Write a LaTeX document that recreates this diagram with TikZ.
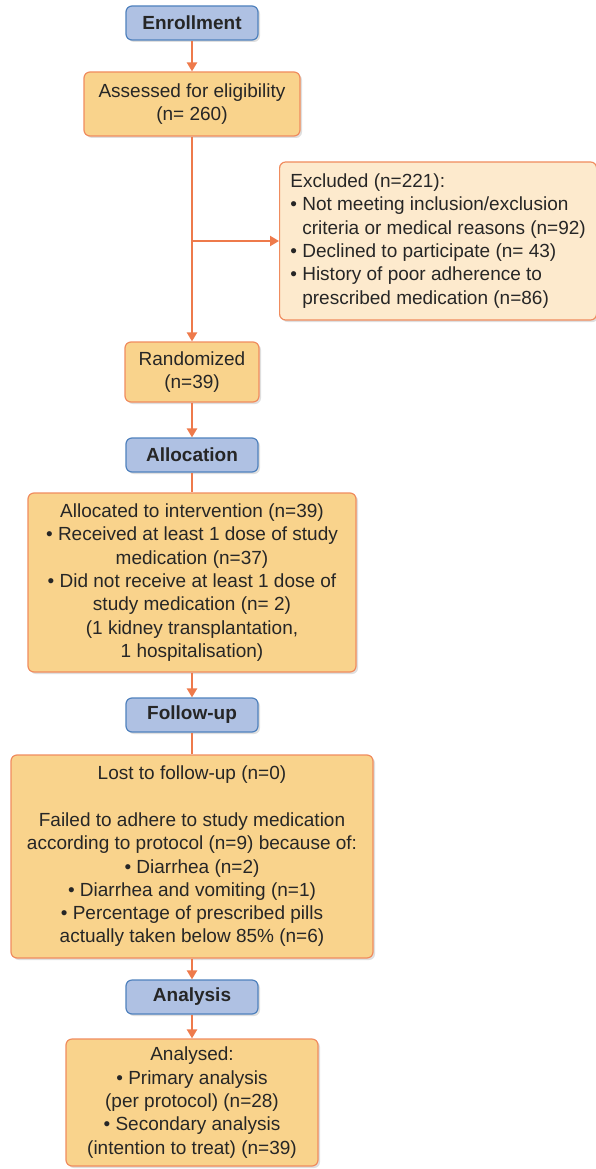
\documentclass[tikz,border=0pt]{standalone}
\usepackage{fontspec}
\setmainfont{Liberation Sans}
\usetikzlibrary{arrows.meta}
\usetikzlibrary{shadows}
\definecolor{HeadBlue}{HTML}{AFC1E3}
\definecolor{HeadEdge}{HTML}{4F81BD}
\definecolor{BoxOrange}{HTML}{F9D38C}
\definecolor{BoxEdge}{HTML}{F08C5E}
\definecolor{ExclFill}{HTML}{FDEACD}
\definecolor{LineOrange}{HTML}{EE7A4B}
\newcommand{\boxfont}{\fontsize{19}{23.3}\selectfont}
\tikzset{
  boxshadow/.style={drop shadow={opacity=0.25,shadow xshift=2pt,shadow yshift=-2pt}},
  head/.style={draw=HeadEdge, fill=HeadBlue, rounded corners=6pt, line width=1.2pt,
    minimum width=132pt, minimum height=34pt, inner sep=0pt, font=\boxfont\bfseries, boxshadow},
  stage/.style={draw=BoxEdge, fill=BoxOrange, rounded corners=6pt, line width=1.2pt,
    align=center, inner sep=0pt, boxshadow},
  excl/.style={stage, fill=ExclFill, align=left},
  flow/.style={draw=LineOrange, line width=2.4pt, -{Triangle[length=9pt,width=10pt]}},
  link/.style={draw=LineOrange, line width=2.4pt}
}

\begin{document}
\begin{tikzpicture}[x=1pt,y=-1pt,font=\boxfont,text=black!85]
  \useasboundingbox (0,0) rectangle (596,1169);

  \node[head] (enrol) at (192,23) {Enrollment};
  \node[stage, minimum width=216pt, minimum height=64pt] (assess) at (192,104)
    {Assessed for eligibility\\(n= 260)};
  \node[excl, anchor=west, minimum width=317pt, minimum height=158pt] (excl) at (279,241)
    {Excluded (n=221):\\
     • Not meeting inclusion/exclusion\\
     \hphantom{• }criteria or medical reasons (n=92)\\
     • Declined to participate (n= 43)\\
     • History of poor adherence to\\
     \hphantom{• }prescribed medication (n=86)};
  \node[stage, minimum width=134pt, minimum height=60pt] (random) at (192,372)
    {Randomized\\(n=39)};

  \node[head] (alloc) at (192,455) {Allocation};
  \node[stage, minimum width=328pt, minimum height=179pt] (inter) at (192,582.5)
    {Allocated to intervention (n=39)\\
     • Received at least 1 dose of study\\
     medication (n=37)\\
     • Did not receive at least 1 dose of\\
     study medication (n= 2)\\
     (1 kidney transplantation,\\
     1 hospitalisation)};

  \node[head] (follow) at (192,715) {Follow-up};
  \node[stage, minimum width=362pt, minimum height=203pt] (lost) at (192,856.5)
    {Lost to follow-up (n=0)\\
     \mbox{}\\
     Failed to adhere to study medication\\
     according to protocol (n=9) because of:\\
     • Diarrhea (n=2)\\
     • Diarrhea and vomiting (n=1)\\
     • Percentage of prescribed pills\\
     actually taken below 85\% (n=6)};

  \node[head] (analys) at (192,997) {Analysis};
  \node[stage, minimum width=252pt, minimum height=127pt] (result) at (192,1102.5)
    {Analysed:\\
     • Primary analysis\\
     (per protocol) (n=28)\\
     • Secondary analysis\\
     (intention to treat) (n=39)};

  \draw[flow] (enrol) -- (assess);
  \draw[flow] (assess) -- (random);
  \draw[flow] (assess.south |- excl.west) -- (excl);
  \draw[flow] (random) -- (alloc);
  \draw[link] (alloc) -- (inter);
  \draw[flow] (inter) -- (follow);
  \draw[link] (follow) -- (lost);
  \draw[flow] (lost) -- (analys);
  \draw[flow] (analys) -- (result);
\end{tikzpicture}
\end{document}
